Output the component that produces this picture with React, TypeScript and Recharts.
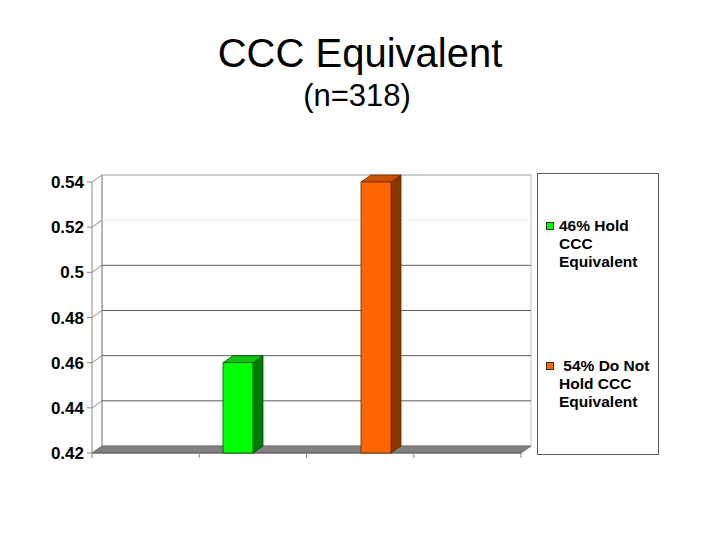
import React from "react";
import {
  BarChart,
  Bar,
  XAxis,
  YAxis,
  ReferenceArea,
  ReferenceLine,
  Legend,
} from "recharts";

// ---- data ----
const categories = ["CCC Equivalent"];
const holdValues = [0.46];
const notHoldValues = [0.54];
const seriesNames = ["46% Hold CCC Equivalent", " 54% Do Not Hold CCC Equivalent"];
const yTicks = [0.42, 0.44, 0.46, 0.48, 0.5, 0.52, 0.54];
const xDivisions = 4; // tick marks along the category floor

const data = categories.map((c, i) => ({
  name: c,
  hold: holdValues[i],
  notHold: notHoldValues[i],
}));

// ---- styling ----
const DX = 10;
const DY = -7;
const FONT = "'Liberation Sans', Arial, sans-serif";

const greenColors = { front: "#00FF00", top: "#14C214", side: "#007C00", stroke: "#005200" };
const orangeColors = { front: "#FF6600", top: "#CC5200", side: "#8A3600", stroke: "#662800" };

function makeBox(colors: any) {
  return (p: any) => {
    const { x, y, width: w, height: h } = p;
    if (w == null || h == null) return <g />;
    const top = `${x},${y} ${x + DX},${y + DY} ${x + w + DX},${y + DY} ${x + w},${y}`;
    const side = `${x + w},${y} ${x + w + DX},${y + DY} ${x + w + DX},${y + h + DY} ${x + w},${y + h}`;
    return (
      <g>
        <polygon points={side} fill={colors.side} stroke={colors.stroke} strokeWidth={0.8} />
        <polygon points={top} fill={colors.top} stroke={colors.stroke} strokeWidth={0.8} />
        <rect x={x} y={y} width={w} height={h} fill={colors.front} stroke={colors.stroke} strokeWidth={0.8} />
      </g>
    );
  };
}

const WallShape = (p: any) => {
  const { x, y, width: w, height: h } = p;
  const floor = `${x},${y + h} ${x + w},${y + h} ${x + w + DX},${y + h + DY} ${x + DX},${y + h + DY}`;
  const ticks = Array.from({ length: xDivisions + 1 }, (_, i) => x + (w * i) / xDivisions);
  return (
    <g>
      <rect x={x + DX} y={y + DY} width={w} height={h} fill="#ffffff" stroke="#c4c4c4" strokeWidth={1} />
      <line x1={x + DX} y1={y + DY} x2={x + DX} y2={y + h + DY} stroke="#8a8a8a" strokeWidth={1} />
      <polygon points={floor} fill="#808080" stroke="#6a6a6a" strokeWidth={1} />
      <line x1={x} y1={y + h} x2={x + w} y2={y + h} stroke="#666" strokeWidth={1} />
      {ticks.map((tx, i) => (
        <line key={i} x1={tx} y1={y + h} x2={tx} y2={y + h + 5} stroke="#888" strokeWidth={1} />
      ))}
    </g>
  );
};

function gridColor(t: number) {
  if (t === 0.54) return "#b8b8b8";
  if (t === 0.52) return "#ececec";
  return "#5c5c5c";
}

function makeGrid(t: number) {
  return (p: any) => {
    const { x1, y1, x2 } = p;
    return (
      <g>
        <line x1={x1 + DX} y1={y1 + DY} x2={x2 + DX} y2={y1 + DY} stroke={gridColor(t)} strokeWidth={1} />
        <line x1={x1} y1={y1} x2={x1 + DX} y2={y1 + DY} stroke="#8a8a8a" strokeWidth={1} />
      </g>
    );
  };
}

const renderLegend = (props: any) => {
  const payload = [...(props.payload || [])].sort(
    (a: any, b: any) => seriesNames.indexOf(a.value) - seriesNames.indexOf(b.value)
  );
  return (
    <div
      style={{
        width: 122,
        height: 282,
        border: "1px solid #5a5a5a",
        boxSizing: "border-box",
        background: "#fff",
        display: "flex",
        flexDirection: "column",
        fontFamily: FONT,
        fontWeight: "bold",
        fontSize: 15.5,
        lineHeight: "18px",
        color: "#000",
      }}
    >
      {payload.map((entry: any, i: number) => (
        <div key={i} style={{ flex: 1, display: "flex", alignItems: "center", paddingLeft: 8 }}>
          <div style={{ display: "flex", alignItems: "flex-start" }}>
            <div
              style={{
                width: 8,
                height: 8,
                marginTop: 5,
                marginRight: 5,
                background: entry.color,
                border: "1px solid #333",
                boxSizing: "border-box",
                flexShrink: 0,
              }}
            />
            <div style={{ width: 96, whiteSpace: "pre-wrap", textAlign: "left" }}>{entry.value}</div>
          </div>
        </div>
      ))}
    </div>
  );
};

export default function App() {
  return (
    <div style={{ position: "absolute", left: 0, top: 0, width: 720, height: 540, background: "#fff" }}>
      <div
        style={{
          position: "absolute",
          left: 0,
          top: 33,
          width: 720,
          textAlign: "center",
          fontFamily: FONT,
          fontSize: 40,
          lineHeight: 1,
          color: "#000",
        }}
      >
        CCC Equivalent
      </div>
      <div
        style={{
          position: "absolute",
          left: 0,
          top: 80,
          width: 714,
          textAlign: "center",
          fontFamily: FONT,
          fontSize: 31,
          lineHeight: 1,
          color: "#000",
        }}
      >
        (n=318)
      </div>
      <div style={{ position: "absolute", left: 0, top: 0 }}>
        <BarChart
          width={720}
          height={540}
          data={data}
          margin={{ top: 182, right: 199, left: 32, bottom: 87 }}
          barSize={30}
          barGap={108}
        >
          <XAxis dataKey="name" hide height={0} />
          <YAxis
            domain={[0.42, 0.54]}
            ticks={yTicks}
            width={60}
            tickSize={5}
            tickMargin={3}
            axisLine={{ stroke: "#888" }}
            tickLine={{ stroke: "#888" }}
            tick={{ fill: "#000", fontFamily: FONT, fontWeight: "bold", fontSize: 17 }}
            tickFormatter={(v: number) => String(v)}
          />
          <ReferenceArea
            y1={yTicks[0]}
            y2={yTicks[yTicks.length - 1]}
            ifOverflow="visible"
            shape={WallShape}
            zIndex={100}
          />
          {yTicks
            .filter((t) => t > yTicks[0])
            .map((t) => (
              <ReferenceLine key={t} y={t} ifOverflow="visible" shape={makeGrid(t)} zIndex={150} />
            ))}
          <Bar
            dataKey="hold"
            name={seriesNames[0]}
            fill={greenColors.front}
            shape={makeBox(greenColors)}
            isAnimationActive={false}
          />
          <Bar
            dataKey="notHold"
            name={seriesNames[1]}
            fill={orangeColors.front}
            shape={makeBox(orangeColors)}
            isAnimationActive={false}
          />
          <Legend
            layout="vertical"
            align="center"
            verticalAlign="middle"
            wrapperStyle={{ left: 537, top: 173, width: 122, height: 282 }}
            content={renderLegend}
          />
        </BarChart>
      </div>
    </div>
  );
}
